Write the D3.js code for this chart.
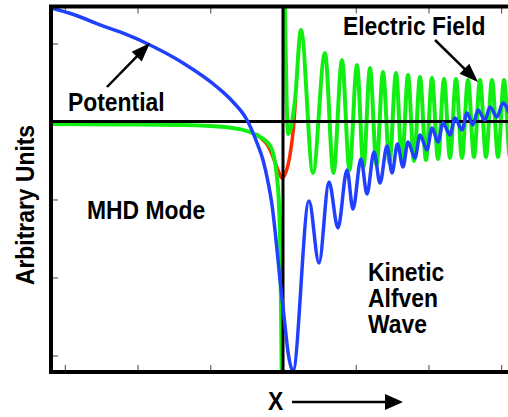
<!DOCTYPE html>
<html>
<head>
<meta charset="utf-8">
<script src="https://cdn.jsdelivr.net/npm/d3@7"></script>
<style>
  body { margin: 0; background: #fff; }
  svg { display: block; }
</style>
</head>
<body>
<div id="canvas"></div>
<script>
"use strict";

/* ---------- data (arbitrary units) ---------- */

// potential: smooth MHD branch, sharp dip, then kinetic Alfven oscillation
let potentialX = [-3.19, -2.860, -2.516, -2.172, -1.829, -1.375, -0.907, -0.687, -0.495, -0.357,
    -0.275, -0.206, -0.151, -0.096, -0.041, 0.027, 0.069, 0.137,
    0.357, 0.495, 0.632, 0.756, 0.880, 0.962, 1.072, 1.155, 1.251, 1.334, 1.430, 1.499,
    1.574, 1.650, 1.719, 1.815, 1.884, 1.980, 2.049, 2.131, 2.200, 2.296, 2.365, 2.461,
    2.530, 2.612, 2.681, 2.777, 2.846, 2.942, 3.025, 3.107];
let potentialY = [1.455, 1.365, 1.237, 1.122, 0.981, 0.750, 0.442, 0.250, 0.019, -0.276,
    -0.494, -0.776, -1.071, -1.519, -2.032, -2.609, -2.955, -3.199,
    -1.019, -1.814, -0.776, -1.365, -0.622, -1.122, -0.481, -0.929, -0.391, -0.788, -0.314, -0.660,
    -0.288, -0.583, -0.263, -0.468, -0.173, -0.365, -0.083, -0.263, -0.019, -0.173, 0.045, -0.109,
    0.109, -0.045, 0.147, 0.019, 0.186, 0.058, 0.237, 0.109];

// electric field, left of the resonance (runs off to -infinity)
let fieldLeftX = [-3.19, -2.241, -1.375, -0.687, -0.454, -0.316, -0.220, -0.151, -0.110,
    -0.082, -0.055, -0.037, -0.025, -0.016];
let fieldLeftY = [-0.032, -0.038, -0.045, -0.083, -0.135, -0.199, -0.263, -0.365, -0.519,
    -0.724, -1.071, -1.647, -2.545, -3.442];

// electric field, right of the resonance (from +infinity into the oscillation)
let fieldRightX = [0.021, 0.032, 0.048, 0.073, 0.165, 0.247, 0.412, 0.577, 0.694, 0.811, 0.914,
    1.017, 1.107, 1.196, 1.286, 1.375, 1.464, 1.554, 1.636, 1.719, 1.801, 1.884, 1.966,
    2.049, 2.131, 2.214, 2.296, 2.379, 2.461, 2.544, 2.626, 2.709, 2.791, 2.874, 2.956,
    3.039, 3.121, 3.204];
let fieldRightY = [1.814, 1.173, 0.340, -0.160, 0.276, 1.173, -0.660, 0.878, -0.660, 0.788, -0.622,
    0.724, -0.583, 0.686, -0.558, 0.635, -0.532, 0.622, -0.519, 0.596, -0.506, 0.571, -0.494,
    0.558, -0.481, 0.545, -0.468, 0.545, -0.468, 0.532, -0.455, 0.532, -0.455, 0.532, -0.455,
    0.532, -0.455, 0.532];

// regularised field across the resonance
let resonantX = [-0.371, -0.289, -0.206, -0.137, -0.069, -0.014, 0.041, 0.096, 0.144, 0.172];
let resonantY = [-0.160, -0.224, -0.314, -0.455, -0.622, -0.724, -0.647, -0.429, -0.083, 0.276];

let xTicks = [-3, -2, -1, 0, 1, 2, 3];
let yTicks = [-3, -2, -1, 0, 1];

/* ---------- canvas ---------- */

let svgWidth = 508;
let svgHeight = 417;

let svg = d3.select("#canvas")
    .append("svg")
    .attr("width", svgWidth)
    .attr("height", svgHeight);

let xScale = d3.scaleLinear().domain([-3.19, 3.19]).range([51, 515]);
let yScale = d3.scaleLinear().domain([-3.212, 1.474]).range([372, 6.5]);

let plotLeft = xScale.range()[0], plotRight = xScale.range()[1];
let plotTop = yScale.range()[1], plotBottom = yScale.range()[0];

svg.append("clipPath")
    .attr("id", "plot")
    .append("rect")
    .attr("x", plotLeft).attr("y", plotTop)
    .attr("width", plotRight - plotLeft).attr("height", plotBottom - plotTop);

/* ---------- ticks (inside, all round) ---------- */

function styleTicks(g) {
    g.select(".domain").remove();
    g.selectAll(".tick line").attr("stroke", "#444").attr("stroke-width", 1);
}

svg.append("g")
    .attr("transform", "translate(0," + plotBottom + ")")
    .call(d3.axisBottom(xScale).tickValues(xTicks).tickSize(-7).tickFormat(""))
    .call(styleTicks);

svg.append("g")
    .attr("transform", "translate(0," + plotTop + ")")
    .call(d3.axisTop(xScale).tickValues(xTicks).tickSize(-7).tickFormat(""))
    .call(styleTicks);

svg.append("g")
    .attr("transform", "translate(" + plotLeft + ",0)")
    .call(d3.axisLeft(yScale).tickValues(yTicks).tickSize(-7).tickFormat(""))
    .call(styleTicks);

/* ---------- curves ---------- */

let line = d3.line()
    .x(d => xScale(d[0]))
    .y(d => yScale(d[1]))
    .curve(d3.curveMonotoneX);

let curves = svg.append("g").attr("clip-path", "url(#plot)");

function drawCurve(xs, ys, color, width) {
    curves.append("path")
        .datum(d3.zip(xs, ys))
        .attr("d", line)
        .attr("fill", "none")
        .attr("stroke", color)
        .attr("stroke-width", width)
        .attr("stroke-linejoin", "round");
}

drawCurve(resonantX, resonantY, "#ff2a00", 3.5);
drawCurve(fieldLeftX, fieldLeftY, "#11ee11", 4);
drawCurve(fieldRightX, fieldRightY, "#11ee11", 4);

/* zero lines */
curves.append("line")
    .attr("x1", plotLeft).attr("x2", plotRight)
    .attr("y1", yScale(0)).attr("y2", yScale(0))
    .attr("stroke", "black").attr("stroke-width", 3);

curves.append("line")
    .attr("x1", xScale(0)).attr("x2", xScale(0))
    .attr("y1", plotTop).attr("y2", plotBottom)
    .attr("stroke", "black").attr("stroke-width", 3);

drawCurve(potentialX, potentialY, "#2040ff", 3.5);

/* frame */
svg.append("rect")
    .attr("x", plotLeft).attr("y", plotTop)
    .attr("width", plotRight - plotLeft).attr("height", plotBottom - plotTop)
    .attr("fill", "none")
    .attr("stroke", "black")
    .attr("stroke-width", 4);

/* ---------- labels ---------- */

function label(str, x, y, anchor, transform) {
    let t = svg.append("text")
        .attr("x", x).attr("y", y)
        .attr("text-anchor", anchor || "start")
        .attr("font-family", "Liberation Sans, Arial, Helvetica, sans-serif")
        .attr("font-weight", "bold")
        .attr("font-size", 26)
        .attr("fill", "black")
        .text(str);
    if (transform) t.attr("transform", transform);
    // the original lettering is a little narrow
    let w = t.node().getComputedTextLength();
    t.attr("textLength", w * 0.88).attr("lengthAdjust", "spacingAndGlyphs");
    return t;
}

label("Potential", 68, 111);
label("Electric Field", 343, 35);
label("MHD Mode", 87, 219);
label("Kinetic", 368, 281);
label("Alfven", 368, 307);
label("Wave", 368, 333);
label("X", 268, 410);
label("Arbitrary Units", 0, 0, "middle", "translate(34,205) rotate(-90)");

/* ---------- arrows ---------- */

function arrow(x1, y1, x2, y2, headLen, headHalf) {
    let a = Math.atan2(y2 - y1, x2 - x1);
    let bx = x2 - headLen * Math.cos(a), by = y2 - headLen * Math.sin(a);
    svg.append("line")
        .attr("x1", x1).attr("y1", y1)
        .attr("x2", bx + 2 * Math.cos(a)).attr("y2", by + 2 * Math.sin(a))
        .attr("stroke", "black").attr("stroke-width", 2.5);
    let px = -Math.sin(a) * headHalf, py = Math.cos(a) * headHalf;
    svg.append("path")
        .attr("d", "M" + x2 + "," + y2 +
            "L" + (bx + px) + "," + (by + py) +
            "L" + (bx - px) + "," + (by - py) + "Z")
        .attr("fill", "black");
}

arrow(107, 87, 150, 43, 19, 7);
arrow(435, 40, 478, 82, 19, 7);
arrow(292, 402, 403, 402, 18, 8);
</script>
</body>
</html>
